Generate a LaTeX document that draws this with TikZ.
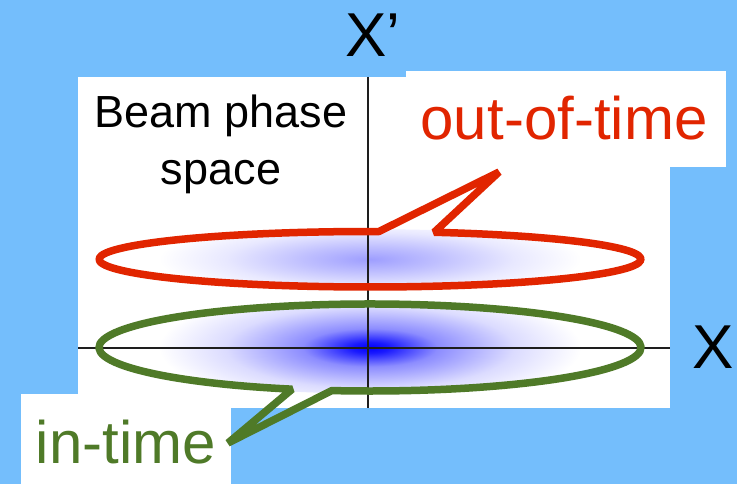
\documentclass[tikz,border=0pt]{standalone}
\usepackage{fontspec}
\setmainfont{Liberation Sans}
\usetikzlibrary{positioning,calc}
\definecolor{bmfond}{HTML}{74BEFC}
\definecolor{bmrouge}{HTML}{E12500}
\definecolor{bmvert}{HTML}{4F7A28}
\definecolor{bmaxe}{HTML}{1E1E1E}
% noyaux du faisceau
\pgfdeclareradialshading{bmdense}{\pgfpoint{0bp}{0bp}}{color(0bp)=(blue); color(2bp)=(blue!90!white); color(7bp)=(blue!45!white); color(15bp)=(blue!14!white); color(22bp)=(white); color(50bp)=(white)}
\pgfdeclareradialshading{bmpale}{\pgfpoint{0bp}{0bp}}{color(0bp)=(blue!38!white); color(7bp)=(blue!25!white); color(15bp)=(blue!9!white); color(22bp)=(white); color(50bp)=(white)}

\begin{document}
\begin{tikzpicture}[x=1pt,y=-1pt,
  cadre/.style={fill=white,draw=none},
  axe/.style={bmaxe,line width=1.3pt},
  contour/.style={line width=7.5pt,line join=bevel},
  bulle/.style={inner sep=0pt,anchor=base,font=\fontsize{60}{60}\selectfont}]
  \useasboundingbox (0,0) rectangle (737,484);
  \fill[bmfond] (0,0) rectangle (737,484);
  % cadres blancs
  \fill[cadre] (78,77) rectangle (670,408);
  \fill[cadre] (406,71) rectangle (726,167);
  \fill[cadre] (21,394) rectangle (231,484);
  % faisceaux
  \coordinate (c1) at (370,259.25);
  \coordinate (c2) at (370,347.5);
  \begin{scope}
    \clip (c1) ellipse [x radius=272, y radius=30];
    \shade[shading=bmpale] (c1) ellipse [x radius=240, y radius=45];
  \end{scope}
  \begin{scope}
    \clip (c2) ellipse [x radius=272, y radius=46];
    \shade[shading=bmdense] (c2) ellipse [x radius=240, y radius=68];
  \end{scope}
  % axes
  \draw[axe] (78,348) -- (670,348);
  \draw[axe] (368,77) -- (368,408);
  \node[inner sep=0pt,anchor=base,font=\fontsize{62}{62}\selectfont] (xp) at (373,57) {X’};
  \node[inner sep=0pt,anchor=base,font=\fontsize{62}{62}\selectfont] (xx) at (713,368) {X};
  % textes
  \node[inner sep=0pt,anchor=base,align=center,font=\fontsize{45}{57}\selectfont] (titre) at (221,185) {Beam phase\\space};
  \node[bulle,text=bmrouge] (hors) at (564,140) {out-of-time};
  \node[bulle,text=bmvert] (dedans) at (126,463) {in-time};
  % ellipses avec queue
  \coordinate (pointe1) at (499,172);
  \coordinate (pointe2) at (228,443);
  \draw[contour,bmrouge] (c1) ++(-88.1:271 and 27.75)
    arc[start angle=-88.1, end angle=-436.3, x radius=271, y radius=27.75]
    -- (pointe1) -- cycle;
  \draw[contour,bmvert] (c2) ++(106.7:271 and 43.5)
    arc[start angle=106.7, end angle=458.1, x radius=271, y radius=43.5]
    -- (pointe2) -- cycle;
\end{tikzpicture}
\end{document}
